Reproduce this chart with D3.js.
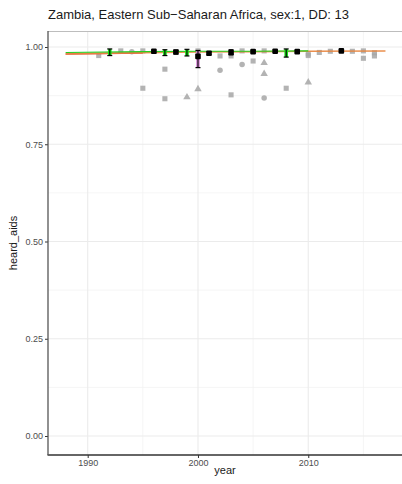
<!DOCTYPE html>
<html>
<head>
<meta charset="utf-8">
<script src="https://cdn.jsdelivr.net/npm/d3@7"></script>
<style>
  html, body { margin: 0; padding: 0; background: #fff; }
  svg { display: block; font-family: "Liberation Sans", Arial, sans-serif; }
</style>
</head>
<body>
<svg id="chart" width="402" height="484"></svg>
<script>
// Survey estimates with confidence intervals (black marks)
const surveyYears = [1992, 1996, 1997, 1998, 1999, 2000, 2001, 2003, 2005, 2007, 2008, 2009, 2013];
const surveyValues = [0.987, 0.989, 0.986, 0.987, 0.986, 0.976, 0.984, 0.986, 0.988, 0.989, 0.986, 0.988, 0.990];
const surveyLower = [0.978, 0.985, 0.978, 0.982, 0.977, 0.947, 0.980, 0.980, 0.985, 0.986, 0.974, 0.985, 0.987];
const surveyUpper = [0.995, 0.992, 0.993, 0.992, 0.994, 0.991, 0.988, 0.993, 0.991, 0.992, 0.995, 0.991, 0.993];
const surveyFill = ["green", "none", "green", "none", "green", "pink", "none", "none", "none", "none", "green", "none", "none"];

// Other sources (grey marks)
const otherYears = [1991, 1993, 1994, 1995, 1995, 1997, 1997, 1999, 2000, 2000, 2002, 2002, 2003, 2003, 2004, 2004, 2005, 2006, 2006, 2006, 2006, 2008, 2010, 2010, 2010, 2011, 2012, 2014, 2015, 2015, 2016, 2016];
const otherValues = [0.978, 0.990, 0.988, 0.990, 0.894, 0.943, 0.867, 0.871, 0.892, 0.990, 0.977, 0.940, 0.977, 0.877, 0.990, 0.955, 0.964, 0.990, 0.959, 0.931, 0.869, 0.894, 0.909, 0.982, 0.978, 0.986, 0.989, 0.989, 0.990, 0.971, 0.985, 0.977];
const otherShapes = ["square", "square", "circle", "square", "square", "square", "square", "triangle", "triangle", "square", "square", "circle", "square", "square", "square", "circle", "square", "square", "triangle", "triangle", "circle", "square", "triangle", "square", "square", "square", "square", "square", "square", "square", "square", "square"];

// Fitted trends
const fitYears = [1988, 1995, 2000, 2005, 2010, 2017];
const fitGreen = [0.986, 0.988, 0.989, 0.989, 0.990, 0.990];
const fitOrange = [0.982, 0.985, 0.987, 0.988, 0.989, 0.990];

const xTicks = [1990, 2000, 2010];
const xMinor = [1995, 2005, 2015];
const yTicks = [0, 0.25, 0.5, 0.75, 1];
const yMinor = [0.125, 0.375, 0.625, 0.875];

const svg = d3.select("#chart");
const panel = { left: 48, right: 402, top: 31, bottom: 455 };

const x = d3.scaleLinear().domain([1986.4, 2018.5]).range([panel.left, panel.right]);
const y = d3.scaleLinear().domain([0, 1]).range([436, 47]);

// Title
svg.append("text")
  .attr("x", 48).attr("y", 19)
  .attr("font-size", 13).attr("fill", "#1a1a1a")
  .text("Zambia, Eastern Sub\u2212Saharan Africa, sex:1, DD: 13");

// Panel background and grid
const g = svg.append("g");
g.append("rect")
  .attr("x", panel.left).attr("y", panel.top)
  .attr("width", panel.right - panel.left).attr("height", panel.bottom - panel.top)
  .attr("fill", "#fff");

g.selectAll(".xminor").data(xMinor).join("line")
  .attr("x1", d => x(d)).attr("x2", d => x(d))
  .attr("y1", panel.top).attr("y2", panel.bottom)
  .attr("stroke", "#f3f3f3").attr("stroke-width", 0.8);
g.selectAll(".yminor").data(yMinor).join("line")
  .attr("y1", d => y(d)).attr("y2", d => y(d))
  .attr("x1", panel.left).attr("x2", panel.right)
  .attr("stroke", "#f3f3f3").attr("stroke-width", 0.8);
g.selectAll(".xmajor").data(xTicks).join("line")
  .attr("x1", d => x(d)).attr("x2", d => x(d))
  .attr("y1", panel.top).attr("y2", panel.bottom)
  .attr("stroke", "#ebebeb").attr("stroke-width", 1.1);
g.selectAll(".ymajor").data(yTicks).join("line")
  .attr("y1", d => y(d)).attr("y2", d => y(d))
  .attr("x1", panel.left).attr("x2", panel.right)
  .attr("stroke", "#ebebeb").attr("stroke-width", 1.1);

// Panel border (top)
g.append("line")
  .attr("x1", panel.left).attr("x2", panel.right)
  .attr("y1", panel.top + 0.5).attr("y2", panel.top + 0.5)
  .attr("stroke", "#bdbdbd").attr("stroke-width", 1);

// Grey points
const grey = g.append("g").attr("fill", "#a6a6a6").attr("fill-opacity", 0.85);
const symbolType = { square: d3.symbolSquare, circle: d3.symbolCircle, triangle: d3.symbolTriangle };
const symbolSize = { square: 26, circle: 24, triangle: 24 };
grey.selectAll("path").data(otherYears.map((yr, i) => ({ yr, v: otherValues[i], s: otherShapes[i] })))
  .join("path")
  .attr("transform", d => `translate(${x(d.yr)},${y(d.v)})`)
  .attr("d", d => d3.symbol().type(symbolType[d.s]).size(symbolSize[d.s])());

// Fitted lines
const line = d3.line().x((d, i) => x(fitYears[i])).y(d => y(d));
g.append("path").datum(fitOrange.slice(0, 2))
  .attr("d", line).attr("fill", "none").attr("stroke", "#e0504a").attr("stroke-width", 1.6);
g.append("path").datum(fitOrange)
  .attr("d", line).attr("fill", "none").attr("stroke", "#e8843c").attr("stroke-width", 1.5)
  .attr("stroke-opacity", 0.9);
g.append("path").datum(fitGreen.slice(0, 5))
  .attr("d", line).attr("fill", "none").attr("stroke", "#22d022").attr("stroke-width", 1.1);

// Survey estimates with error bars
const survey = surveyYears.map((yr, i) => ({
  yr, v: surveyValues[i], lo: surveyLower[i], hi: surveyUpper[i], f: surveyFill[i]
}));
const sg = g.append("g");
const fillColor = { green: "#18e018", pink: "#d98ad9" };
survey.forEach(d => {
  const cx = x(d.yr);
  const e = sg.append("g");
  if (d.f !== "none") {
    e.append("rect")
      .attr("x", cx - 1.8).attr("y", y(d.hi))
      .attr("width", 3.6).attr("height", y(d.lo) - y(d.hi))
      .attr("fill", fillColor[d.f]);
  }
  e.append("line").attr("x1", cx).attr("x2", cx).attr("y1", y(d.hi)).attr("y2", y(d.lo))
    .attr("stroke", "#000").attr("stroke-width", 1.1);
  [d.hi, d.lo].forEach(c => {
    e.append("line").attr("x1", cx - 2.5).attr("x2", cx + 2.5).attr("y1", y(c)).attr("y2", y(c))
      .attr("stroke", "#000").attr("stroke-width", 1.2);
  });
  if (d.f !== "green") {
    e.append("rect")
      .attr("x", cx - 2.8).attr("y", y(d.v) - 2.8)
      .attr("width", 5.6).attr("height", 5.6).attr("rx", 1)
      .attr("fill", "#000");
  }
});

// Axes
const xAxis = d3.axisBottom(x).tickValues(xTicks).tickFormat(d3.format("d")).tickSize(3).tickPadding(2);
const yAxis = d3.axisLeft(y).tickValues(yTicks).tickFormat(d3.format(".2f")).tickSize(3).tickPadding(2);

const xa = svg.append("g").attr("transform", `translate(0,${panel.bottom})`).call(xAxis);
xa.select(".domain").remove();
xa.append("line").attr("x1", panel.left - 0.5).attr("x2", panel.right).attr("y1", 0).attr("y2", 0)
  .attr("stroke", "#333").attr("stroke-width", 1.3);
xa.selectAll(".tick line").attr("stroke", "#333");
xa.selectAll(".tick text").attr("fill", "#4d4d4d").attr("font-size", 9)
  .attr("font-family", "'Liberation Sans', Arial, sans-serif");

const ya = svg.append("g").attr("transform", `translate(${panel.left},0)`).call(yAxis);
ya.select(".domain").remove();
ya.append("line").attr("x1", 0).attr("x2", 0).attr("y1", panel.top).attr("y2", panel.bottom)
  .attr("stroke", "#555").attr("stroke-width", 1.3);
ya.selectAll(".tick line").attr("stroke", "#333");
ya.selectAll(".tick text").attr("fill", "#4d4d4d").attr("font-size", 9)
  .attr("font-family", "'Liberation Sans', Arial, sans-serif");

// Axis titles
svg.append("text")
  .attr("x", (panel.left + panel.right) / 2).attr("y", 474)
  .attr("text-anchor", "middle").attr("font-size", 11).attr("fill", "#1a1a1a")
  .text("year");
svg.append("text")
  .attr("transform", `translate(17,${(panel.top + panel.bottom) / 2}) rotate(-90)`)
  .attr("text-anchor", "middle").attr("font-size", 11).attr("fill", "#1a1a1a")
  .text("heard_aids");
</script>
</body>
</html>
